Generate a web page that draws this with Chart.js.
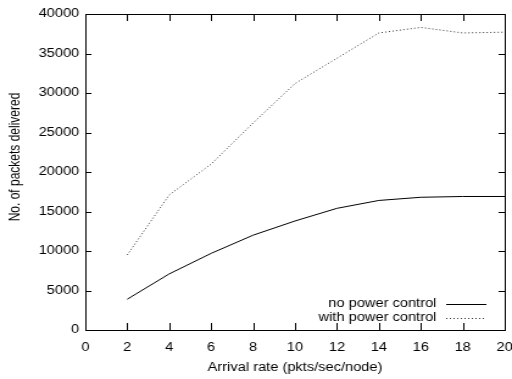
<!DOCTYPE html>
<html>
<head>
<meta charset="utf-8">
<script src="https://cdn.jsdelivr.net/npm/chart.js@4/dist/chart.umd.min.js"></script>
<style>
  body { margin: 0; background: #fff; overflow: hidden; }
  #wrap { width: 512px; height: 379px; overflow: hidden; }
  /* 元画像は横に引き伸ばされているので同じように拡大する */
  #lineChart { transform: scaleX(1.219); transform-origin: 0 0; }
</style>
</head>
<body>
<div id="wrap"><canvas id="lineChart" width="420" height="379"></canvas></div>
<script>
// X軸: 到着率
const rates = [2, 4, 6, 8, 10, 12, 14, 16, 18, 20];
// 電力制御なし
const noPower = [3900, 7100, 9700, 12000, 13800, 15400, 16400, 16800, 16900, 16900];
// 電力制御あり
const withPower = [9500, 17100, 21000, 26200, 31200, 34400, 37600, 38300, 37600, 37700];
const seriesNames = ['no power control', 'with power control'];
const xTicks = [0, 2, 4, 6, 8, 10, 12, 14, 16, 18, 20];
const yTicks = [0, 5000, 10000, 15000, 20000, 25000, 30000, 35000, 40000];
const yTitle = 'No. of packets delivered';

const font = { family: 'Liberation Sans, Arial, sans-serif', size: 12 };

// gnuplot風の枠・内向き目盛り・凡例
const gnuplotStyle = {
    id: 'gnuplotStyle',
    afterDatasetsDraw(chart) {
        const { ctx, chartArea: a, scales } = chart;
        ctx.save();
        ctx.strokeStyle = '#000';
        ctx.lineWidth = 1;
        ctx.strokeRect(a.left + 0.5, a.top + 0.5, a.right - a.left, a.bottom - a.top);
        ctx.beginPath();
        xTicks.forEach(v => {
            const x = Math.round(scales.x.getPixelForValue(v)) + 0.5;
            ctx.moveTo(x, a.bottom); ctx.lineTo(x, a.bottom - 7);
            ctx.moveTo(x, a.top); ctx.lineTo(x, a.top + 7);
        });
        yTicks.forEach(v => {
            const y = Math.round(scales.y.getPixelForValue(v)) + 0.5;
            ctx.moveTo(a.left, y); ctx.lineTo(a.left + 5, y);
            ctx.moveTo(a.right, y); ctx.lineTo(a.right - 5, y);
        });
        ctx.stroke();

        ctx.font = font.size + 'px ' + font.family;
        ctx.fillStyle = '#000';

        // Y軸タイトル
        ctx.save();
        ctx.translate(13, (a.top + a.bottom) / 2 - 15);
        ctx.rotate(-Math.PI / 2);
        ctx.textAlign = 'center';
        ctx.textBaseline = 'middle';
        ctx.fillText(yTitle, 0, 0);
        ctx.restore();

        // 凡例 (右下)
        ctx.textAlign = 'right';
        ctx.textBaseline = 'middle';
        const textRight = a.right - 56;
        const lineL = a.right - 48, lineR = a.right - 15;
        chart.data.datasets.forEach((ds, i) => {
            const y = a.bottom - 26 + i * 14;
            ctx.fillText(ds.label, textRight, y);
            ctx.beginPath();
            ctx.strokeStyle = ds.borderColor;
            ctx.setLineDash(ds.borderDash || []);
            ctx.moveTo(lineL, y + 0.5); ctx.lineTo(lineR, y + 0.5);
            ctx.stroke();
        });
        ctx.restore();
    }
};

function renderChart() {
    const ctx = document.getElementById('lineChart').getContext('2d');
    new Chart(ctx, {
        type: 'line',
        data: {
            datasets: [{
                label: seriesNames[0],
                data: rates.map((r, i) => ({ x: r, y: noPower[i] })),
                borderColor: '#000',
                borderWidth: 1,
                pointRadius: 0,
                tension: 0
            }, {
                label: seriesNames[1],
                data: rates.map((r, i) => ({ x: r, y: withPower[i] })),
                borderColor: '#333',
                borderWidth: 1,
                borderDash: [1, 2],
                pointRadius: 0,
                tension: 0
            }]
        },
        options: {
            responsive: false,
            animation: false,
            layout: { padding: { top: 14, right: 0, left: 0, bottom: 0 } },
            plugins: {
                legend: { display: false },
                tooltip: { enabled: false }
            },
            scales: {
                x: {
                    type: 'linear',
                    min: 0, max: 20,
                    afterBuildTicks: s => { s.ticks = xTicks.map(v => ({ value: v })); },
                    afterFit: s => { s.height = 49; s.paddingRight = 6; },
                    grid: { display: false, drawTicks: false },
                    border: { display: false },
                    ticks: { color: '#000', font: font, padding: 10, maxRotation: 0 },
                    title: { display: true, text: 'Arrival rate (pkts/sec/node)', color: '#000', font: font, padding: { top: 2, bottom: 4 } }
                },
                y: {
                    min: 0, max: 40000,
                    afterBuildTicks: s => { s.ticks = yTicks.map(v => ({ value: v })); },
                    afterFit: s => { s.width = 70; },
                    grid: { display: false, drawTicks: false },
                    border: { display: false },
                    ticks: { color: '#000', font: font, padding: 5, callback: v => String(v) },
                    title: { display: false }
                }
            }
        },
        plugins: [gnuplotStyle]
    });
}

renderChart();
</script>
</body>
</html>
